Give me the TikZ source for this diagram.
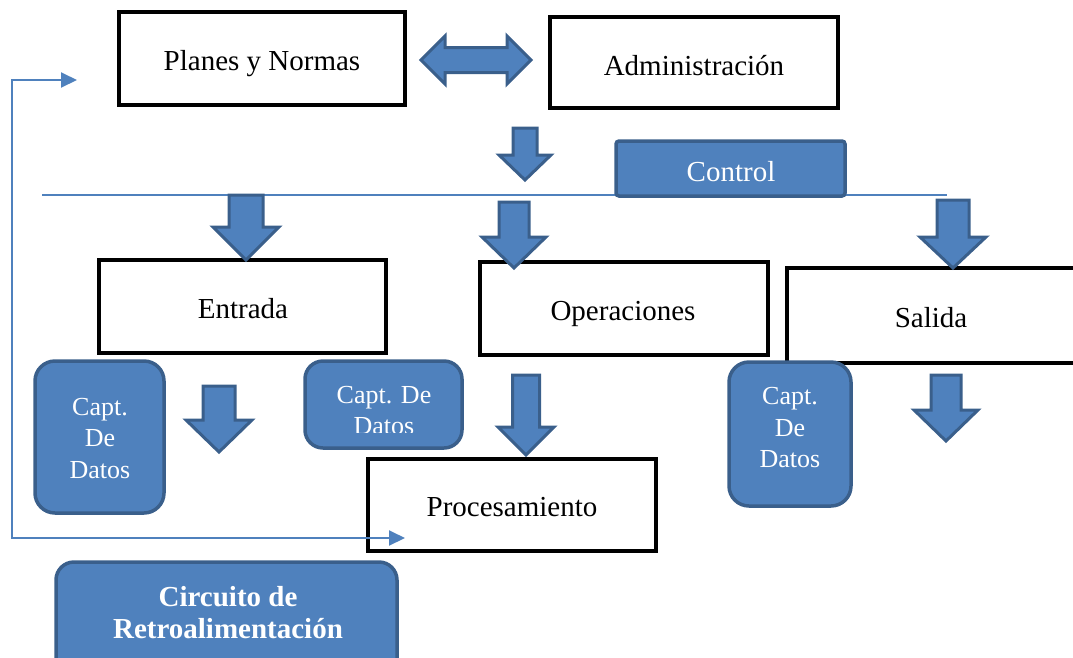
\documentclass[tikz,border=0pt]{standalone}
\usepackage{fontspec}
\setmainfont{Liberation Serif}
\usetikzlibrary{arrows.meta}
\definecolor{myblue}{RGB}{79,129,189}
\definecolor{myborder}{RGB}{58,95,139}
\newcommand\blockdown[6]{\draw[barrow] ({#1-#2},#4) -- ({#1+#2},#4) -- ({#1+#2},#5) -- ({#1+#3},#5) -- (#1,#6) -- ({#1-#3},#5) -- ({#1-#2},#5) -- cycle;}
\begin{document}
\begin{tikzpicture}[x=1pt,y=-1pt,
  box/.style={draw=black, line width=4pt, fill=white, inner sep=0pt},
  bluebox/.style={draw=myborder, line width=3.5pt, fill=myblue, rounded corners=20pt, inner sep=0pt},
  barrow/.style={draw=myborder, line width=3pt, fill=myblue, line join=miter},
  lbl/.style={anchor=base, inner sep=0pt, font=\fontsize{29}{33}\selectfont},
  wlbl/.style={lbl, text=white},
  clbl/.style={anchor=base, inner sep=0pt, text=white, font=\fontsize{26}{31}\selectfont},
  thinline/.style={draw=myblue, line width=2pt}
]
\useasboundingbox (0,0) rectangle (1073,657);

% control line
\coordinate (hl1) at (42,195);
\coordinate (hl2) at (947,195);
\draw[thinline] (hl1) -- (hl2);

% white boxes
\node[box, minimum width=286pt, minimum height=93pt] (planes) at (262,58.5) {};
\node[lbl] (planesT) at (262,70) {Planes y Normas};
\node[box, minimum width=288pt, minimum height=91pt] (admin) at (694,62.5) {};
\node[lbl] (adminT) at (694,75) {Administración};
\node[box, minimum width=287pt, minimum height=93pt] (entrada) at (242.5,306.5) {};
\node[lbl] (entradaT) at (243,318) {Entrada};
\node[box, minimum width=288pt, minimum height=93pt] (oper) at (624,308.5) {};
\node[lbl] (operT) at (623,320) {Operaciones};
\node[box, minimum width=288pt, minimum height=95pt] (salida) at (931,315.5) {};
\node[lbl] (salidaT) at (931,327) {Salida};
\node[box, minimum width=288pt, minimum height=92pt] (proc) at (512,505) {};
\node[lbl] (procT) at (512,516) {Procesamiento};

% control box
\node[bluebox, rounded corners=3pt, minimum width=229pt, minimum height=55pt] (control) at (730.5,168.5) {};
\node[wlbl] (controlT) at (731,181) {Control};

% double arrow
\draw[barrow] (421,60) -- (445,36) -- (445,47.5) -- (507,47.5) -- (507,36) -- (531,60) -- (507,84) -- (507,72.5) -- (445,72.5) -- (445,84) -- cycle;

% block down arrows
\blockdown{525}{12}{26}{128}{155}{180}
\blockdown{246}{17}{33}{195}{227}{260}
\blockdown{514}{15}{32}{202}{237}{268}
\blockdown{953}{16}{33}{200}{237}{268}
\blockdown{219}{16}{33}{386}{420}{452}
\blockdown{526}{13.5}{28}{375}{427}{455}
\blockdown{946}{15}{32}{375}{410}{441}

% capt boxes
\node[bluebox, minimum width=129pt, minimum height=152pt] (captL) at (99.5,437) {};
\node[clbl] (captL1) at (100,415) {Capt.};
\node[clbl] (captL2) at (100,446) {De};
\node[clbl] (captL3) at (100,478) {Datos};
\node[bluebox, rounded corners=18pt, minimum width=157pt, minimum height=87pt] (captM) at (383.5,404.5) {};
\node[clbl] (captM1) at (384,403) {Capt. De};
\begin{scope}
\clip (300,405) rectangle (470,432);
\node[clbl] (captM2) at (384,434) {Datos};
\end{scope}
\node[bluebox, minimum width=122pt, minimum height=144pt] (captR) at (790,434) {};
\node[clbl] (captR1) at (790,404) {Capt.};
\node[clbl] (captR2) at (790,436) {De};
\node[clbl] (captR3) at (790,467) {Datos};

% circuito
\node[bluebox, rounded corners=18pt, minimum width=341pt, minimum height=120pt] (circ) at (226.5,622) {};
\node[wlbl, font=\fontsize{29}{33}\selectfont\bfseries] (circ1) at (228,606) {Circuito de};
\node[wlbl, font=\fontsize{29}{33}\selectfont\bfseries] (circ2) at (228,638) {Retroalimentación};

% feedback loop
\coordinate (fbP) at (405,538);
\coordinate (fbB) at (12,538);
\coordinate (fbC) at (12,80);
\coordinate (fbD) at (77,80);
\draw[thinline, {Triangle[length=16pt,width=15pt]}-{Triangle[length=16pt,width=15pt]}] (fbP) -- (fbB) -- (fbC) -- (fbD);
\end{tikzpicture}
\end{document}
